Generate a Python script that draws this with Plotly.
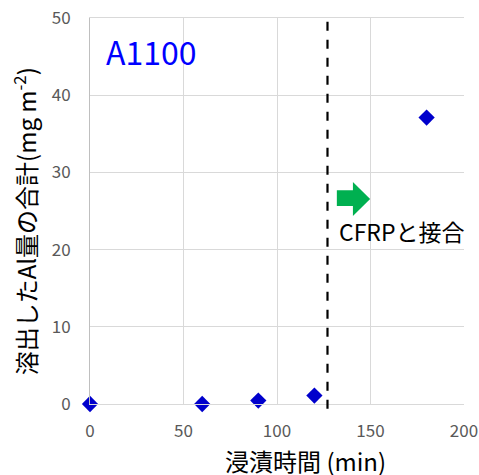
import plotly.graph_objects as go

time_min = [0, 60, 90, 120, 180]
al_total = [0.0, 0.0, 0.45, 1.1, 37.1]
x_ticks = [0, 50, 100, 150, 200]
y_ticks = [0, 10, 20, 30, 40, 50]
join_time = 127

FONT = "Noto Sans CJK JP, Noto Sans, sans-serif"

fig = go.Figure()
fig.add_trace(go.Scatter(
    x=time_min, y=al_total, mode="markers",
    marker=dict(symbol="diamond", size=12.5, color="#0000CC"),
    cliponaxis=False, showlegend=False,
))

fig.add_shape(type="line", xref="x", yref="paper", x0=join_time, x1=join_time,
              y0=-0.012, y1=1.004, line=dict(color="black", width=2.2, dash="dash"))

# green arrow
fig.add_shape(type="path", xref="paper", yref="paper",
              path="M 0.660,0.554 L 0.703,0.554 L 0.703,0.575 L 0.749,0.531 L 0.703,0.487 L 0.703,0.513 L 0.660,0.513 Z",
              fillcolor="#00B050", line=dict(width=0))

fig.add_annotation(text="CFRPと接合", xref="paper", yref="paper", x=0.660, y=0.448,
                   xanchor="left", yanchor="middle", showarrow=False,
                   font=dict(family=FONT, size=23, color="black"))
fig.add_annotation(text="A1100", xref="paper", yref="paper", x=0.038, y=0.915,
                   xanchor="left", yanchor="middle", showarrow=False,
                   font=dict(family=FONT, size=32, color="#0000FF"))

# axis titles
fig.add_annotation(text="溶出したAl量の合計(mg m<sup>-2</sup>)", xref="paper", yref="paper",
                   x=-0.174, y=0.473, textangle=-90, showarrow=False,
                   xanchor="center", yanchor="middle",
                   font=dict(family=FONT, size=24, color="black"))
fig.add_annotation(text="浸漬時間 (min)", xref="paper", yref="paper",
                   x=0.576, y=-0.147, showarrow=False,
                   xanchor="center", yanchor="middle",
                   font=dict(family=FONT, size=24, color="black"))

fig.update_layout(
    width=479, height=475,
    margin=dict(l=90, r=15, t=18, b=71),
    paper_bgcolor="white", plot_bgcolor="white",
    font=dict(family=FONT),
    xaxis=dict(range=[0, 200], tickvals=x_ticks, showgrid=True, gridcolor="#d9d9d9",
               zeroline=False, showline=True, linecolor="#d9d9d9", mirror=True,
               tickfont=dict(size=17, color="#595959"), automargin=False,
               ticklabeloverflow="allow",
               ticks="outside", ticklen=12, tickcolor="rgba(0,0,0,0)"),
    yaxis=dict(range=[0, 50], tickvals=y_ticks, showgrid=True, gridcolor="#d9d9d9",
               zeroline=False, showline=True, linecolor="#bfbfbf", mirror=False,
               tickfont=dict(size=17, color="#595959"), automargin=False,
               ticklabeloverflow="allow",
               ticks="outside", ticklen=15, tickcolor="rgba(0,0,0,0)"),
)

fig.write_html("out.html", config={"displayModeBar": False},
               post_script="document.body.style.margin='0';")
